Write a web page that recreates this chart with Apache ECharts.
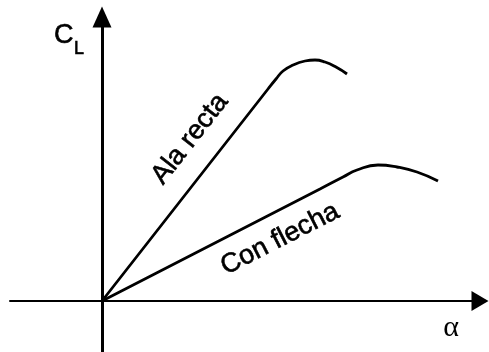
<!DOCTYPE html>
<html>
<head>
<meta charset="utf-8">
<script src="https://cdn.jsdelivr.net/npm/echarts@6/dist/echarts.min.js"></script>
<style>
  html, body { margin: 0; padding: 0; background: #fff; }
</style>
</head>
<body>
<div id="main" style="width: 489px;height:352px;"></div>
<script type="text/javascript">
    // angulo de ataque (grados) y CL
    var alaRectaAlpha = [0, 16.6, 17.4, 18.1, 19.1, 20.3, 21.3, 22.3, 23.4, 24.5];
    var alaRectaCL    = [0, 1.06, 1.11, 1.15, 1.18, 1.20, 1.205, 1.195, 1.17, 1.135];
    var conFlechaAlpha = [0, 21.8, 24.1, 25.5, 27.6, 29.5, 31.5, 33.6];
    var conFlechaCL    = [0, 0.56, 0.62, 0.655, 0.68, 0.67, 0.645, 0.60];
    var curveNames = ['Ala recta', 'Con flecha'];

    function pairs(xs, ys) {
        return xs.map(function (x, i) { return [x, ys[i]]; });
    }

    // texto un poco mas grueso, como el de la figura escaneada
    function txt(extra) {
        var s = { fontFamily: 'Liberation Sans', fill: '#000', stroke: '#000', lineWidth: 0.6 };
        for (var k in extra) s[k] = extra[k];
        return s;
    }

    var myChart = echarts.init(document.getElementById('main'));
    var option = {
        animation: false,
        backgroundColor: '#fff',
        grid: { left: 10, right: 9, top: 17, bottom: 0 },
        xAxis: {
            type: 'value',
            min: -9.2,
            max: 37.8,
            axisLine: {
                show: true,
                onZero: true,
                symbol: ['none', 'triangle'],
                symbolSize: [20, 17],
                lineStyle: { color: '#000', width: 2 }
            },
            axisTick: { show: false },
            axisLabel: { show: false },
            splitLine: { show: false }
        },
        yAxis: {
            type: 'value',
            min: -0.255,
            max: 1.42,
            axisLine: {
                show: true,
                onZero: true,
                symbol: ['none', 'triangle'],
                symbolSize: [19, 21],
                lineStyle: { color: '#000', width: 3 }
            },
            axisTick: { show: false },
            axisLabel: { show: false },
            splitLine: { show: false }
        },
        graphic: [
            // C con subindice L
            { type: 'text', x: 54, y: 49, style: txt({ text: 'C', fontSize: 27, textVerticalAlign: 'bottom' }) },
            { type: 'text', x: 74, y: 58, style: txt({ text: 'L', fontSize: 18, textVerticalAlign: 'bottom' }) },
            {
                type: 'text', x: 451, y: 328,
                style: {
                    text: 'α', fontSize: 30, fontFamily: 'Liberation Serif', fill: '#000',
                    textAlign: 'center', textVerticalAlign: 'middle'
                }
            },
            {
                type: 'text', x: 190, y: 139, rotation: 52 * Math.PI / 180,
                style: txt({ text: curveNames[0], fontSize: 27, textAlign: 'center', textVerticalAlign: 'middle' })
            },
            {
                type: 'text', x: 280, y: 239, rotation: 27 * Math.PI / 180,
                style: txt({ text: curveNames[1], fontSize: 27, textAlign: 'center', textVerticalAlign: 'middle' })
            }
        ],
        series: [
            {
                name: curveNames[0],
                type: 'line',
                data: pairs(alaRectaAlpha, alaRectaCL),
                smooth: 0.5,
                symbol: 'none',
                lineStyle: { color: '#000', width: 2.8 }
            },
            {
                name: curveNames[1],
                type: 'line',
                data: pairs(conFlechaAlpha, conFlechaCL),
                smooth: 0.5,
                symbol: 'none',
                lineStyle: { color: '#000', width: 2.8 }
            }
        ]
    };
    myChart.setOption(option);
</script>
</body>
</html>
